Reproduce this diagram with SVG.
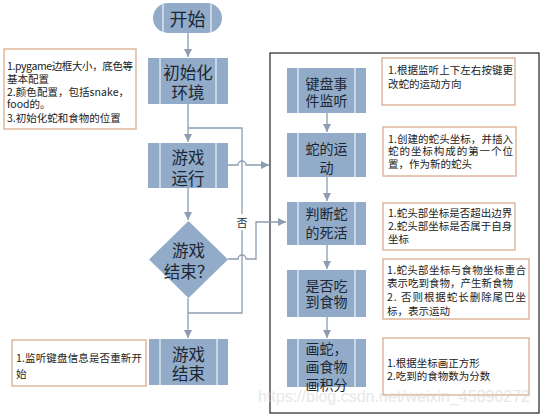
<svg xmlns="http://www.w3.org/2000/svg" width="544" height="416" viewBox="0 0 544 416">
<defs>
<marker id="arr" markerUnits="userSpaceOnUse" markerWidth="9" markerHeight="8" refX="8" refY="4" orient="auto">
<path d="M0,0 L8,4 L0,8 z" fill="#8c9db1"/>
</marker>
<style>
.n{fill:#91abc9;}
.il{stroke:#eef3f8;stroke-width:1.2;}
.t{font-family:"Noto Sans CJK SC","Noto Sans",sans-serif;fill:#1c2733;dominant-baseline:central;text-anchor:middle;}
.tl{font-size:16.5px;}
.tr{font-size:14px;}
.note{fill:#fff;stroke:#d9ab8c;stroke-width:1.3;}
.nt{font-family:"Noto Sans CJK SC","Noto Sans",sans-serif;fill:#222;font-size:10.5px;dominant-baseline:central;}
.c{fill:none;stroke:#8c9db1;stroke-width:1.3;}
</style>
</defs>
<rect width="544" height="416" fill="#fff"/>

<g id="container">
<rect x="270" y="53" width="269" height="360" fill="none" stroke="#333" stroke-width="1.3"/>
</g>

<g id="connectors">
<path class="c" d="M188,33 V57" marker-end="url(#arr)"/>
<path class="c" d="M188,104 V142" marker-end="url(#arr)"/>
<path class="c" d="M188,188 V220" marker-end="url(#arr)"/>
<path class="c" d="M188,298 V338" marker-end="url(#arr)"/>
<path class="c" d="M188,313 H242 V128 H188"/>
<path class="c" d="M228,165 H238 A4,4 0 0 1 246,165 H269" marker-end="url(#arr)"/>
<path class="c" d="M228,259 H238 A4,4 0 0 1 246,259 H256 V222 H286" marker-end="url(#arr)"/>
<path class="c" d="M327,113 V132" marker-end="url(#arr)"/>
<path class="c" d="M327,177 V201" marker-end="url(#arr)"/>
<path class="c" d="M327,245 V269" marker-end="url(#arr)"/>
<path class="c" d="M327,317 V338" marker-end="url(#arr)"/>
<rect x="235" y="214" width="14" height="16" fill="#fff"/>
<text class="t" x="242" y="222" style="font-size:11px">否</text>
</g>

<g id="start">
<rect class="n" x="153" y="3" width="69" height="30" rx="15"/>
<line class="il" x1="163" y1="4" x2="163" y2="32"/>
<line class="il" x1="211" y1="4" x2="211" y2="32"/>
<text class="t" x="187.5" y="18" style="font-size:18px">开始</text>
</g>

<g id="init">
<rect class="n" x="148" y="58" width="80" height="46"/>
<line class="il" x1="160" y1="58" x2="160" y2="104"/>
<line class="il" x1="216" y1="58" x2="216" y2="104"/>
<text class="t tl" x="188" y="72">初始化</text>
<text class="t tl" x="188" y="92">环境</text>
</g>

<g id="note-init">
<rect class="note" x="4" y="49" width="132" height="80"/>
<text class="nt" x="7" y="65" textLength="126" lengthAdjust="spacing">1.pygame边框大小，底色等</text>
<text class="nt" x="7" y="78">基本配置</text>
<text class="nt" x="7" y="91" textLength="122" lengthAdjust="spacing">2.颜色配置，包括snake，</text>
<text class="nt" x="7" y="103">food的。</text>
<text class="nt" x="7" y="117">3.初始化蛇和食物的位置</text>
</g>

<g id="run">
<rect class="n" x="148" y="143" width="80" height="45"/>
<line class="il" x1="160" y1="143" x2="160" y2="188"/>
<line class="il" x1="216" y1="143" x2="216" y2="188"/>
<text class="t tl" x="188" y="157">游戏</text>
<text class="t tl" x="188" y="178">运行</text>
</g>

<g id="decision">
<polygon class="n" points="188.5,221 228,259.5 188.5,298 149,259.5"/>
<text class="t tl" x="188.5" y="250">游戏</text>
<text class="t tl" x="188.5" y="271">结束？</text>
</g>

<g id="end">
<rect class="n" x="149" y="339" width="79" height="46"/>
<line class="il" x1="160" y1="339" x2="160" y2="385"/>
<line class="il" x1="217" y1="339" x2="217" y2="385"/>
<text class="t tl" x="188.5" y="354">游戏</text>
<text class="t tl" x="188.5" y="373">结束</text>
</g>

<g id="note-end">
<rect class="note" x="12" y="340" width="134" height="46"/>
<text class="nt" x="16" y="357" textLength="126" lengthAdjust="spacing">1.监听键盘信息是否重新开</text>
<text class="nt" x="16" y="373">始</text>
</g>

<g id="keyboard">
<rect class="n" x="287" y="68" width="79" height="45"/>
<line class="il" x1="298" y1="68" x2="298" y2="113"/>
<line class="il" x1="355" y1="68" x2="355" y2="113"/>
<text class="t tr" x="326.5" y="83">键盘事</text>
<text class="t tr" x="326.5" y="100">件监听</text>
</g>

<g id="note-keyboard">
<rect class="note" x="382" y="58" width="133" height="47"/>
<text class="nt" x="388" y="69" textLength="125" lengthAdjust="spacing">1.根据监听上下左右按键更</text>
<text class="nt" x="388" y="83">改蛇的运动方向</text>
</g>

<g id="move">
<rect class="n" x="287" y="133" width="79" height="44"/>
<line class="il" x1="298" y1="133" x2="298" y2="177"/>
<line class="il" x1="355" y1="133" x2="355" y2="177"/>
<text class="t tr" x="326.5" y="148">蛇的运</text>
<text class="t tr" x="326.5" y="167">动</text>
</g>

<g id="note-move">
<rect class="note" x="383" y="127" width="133" height="49"/>
<text class="nt" x="388" y="138" textLength="125" lengthAdjust="spacing">1.创建的蛇头坐标，并插入</text>
<text class="nt" x="388" y="150.5" textLength="125" lengthAdjust="spacing">蛇的坐标构成的第一个位</text>
<text class="nt" x="388" y="163">置，作为新的蛇头</text>
</g>

<g id="alive">
<rect class="n" x="287" y="202" width="79" height="43"/>
<line class="il" x1="298" y1="202" x2="298" y2="245"/>
<line class="il" x1="355" y1="202" x2="355" y2="245"/>
<text class="t tr" x="326.5" y="213">判断蛇</text>
<text class="t tr" x="326.5" y="232">的死活</text>
</g>

<g id="note-alive">
<rect class="note" x="383" y="203" width="132" height="47"/>
<text class="nt" x="388" y="212">1.蛇头部坐标是否超出边界</text>
<text class="nt" x="388" y="225">2.蛇头部坐标是否属于自身</text>
<text class="nt" x="388" y="238">坐标</text>
</g>

<g id="eat">
<rect class="n" x="287" y="270" width="79" height="47"/>
<line class="il" x1="298" y1="270" x2="298" y2="317"/>
<line class="il" x1="355" y1="270" x2="355" y2="317"/>
<text class="t tr" x="326.5" y="285">是否吃</text>
<text class="t tr" x="326.5" y="301">到食物</text>
</g>

<g id="note-eat">
<rect class="note" x="383" y="259" width="146" height="60"/>
<text class="nt" x="387" y="269" textLength="139" lengthAdjust="spacing">1.蛇头部坐标与食物坐标重合</text>
<text class="nt" x="387" y="282">表示吃到食物，产生新食物</text>
<text class="nt" x="387" y="296" textLength="139" lengthAdjust="spacing">2. 否则根据蛇长删除尾巴坐</text>
<text class="nt" x="387" y="310">标，表示运动</text>
</g>

<g id="draw">
<rect class="n" x="287" y="339" width="79" height="48"/>
<line class="il" x1="298" y1="339" x2="298" y2="387"/>
<line class="il" x1="355" y1="339" x2="355" y2="387"/>
<text class="t tr" x="326.5" y="348">画蛇，</text>
<text class="t tr" x="326.5" y="366">画食物</text>
<text class="t tr" x="326.5" y="384">画积分</text>
</g>

<g id="note-draw">
<rect class="note" x="383" y="338" width="146" height="57"/>
<text class="nt" x="387" y="362">1.根据坐标画正方形</text>
<text class="nt" x="387" y="375">2.吃到的食物数为分数</text>
</g>

<text x="258" y="396" font-family="Liberation Sans, sans-serif" font-size="17" fill="#d4d4d4" opacity="0.55" textLength="272" lengthAdjust="spacingAndGlyphs" dominant-baseline="central">https://blog.csdn.net/weixin_45890272</text>
</svg>
